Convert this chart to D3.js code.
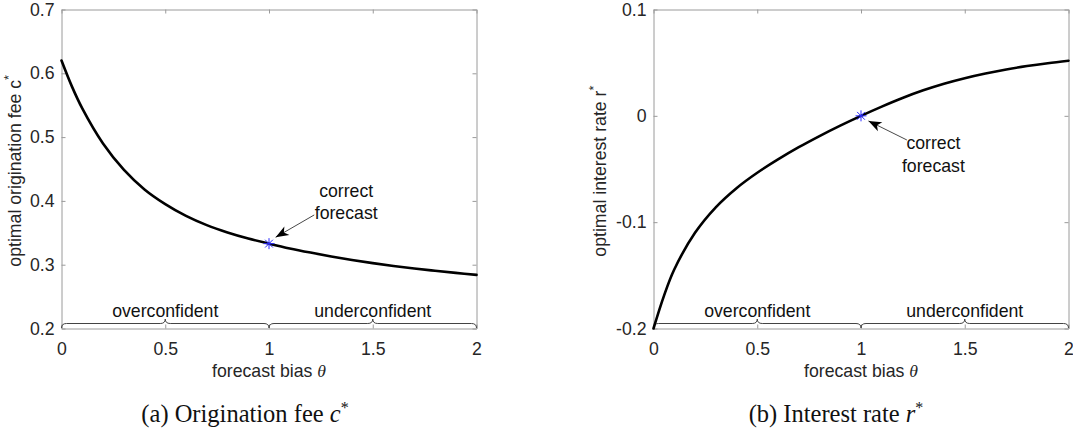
<!DOCTYPE html>
<html><head><meta charset="utf-8">
<script src="https://cdn.jsdelivr.net/npm/d3@7"></script>
<style>body{margin:0;background:#fff} svg{display:block}</style>
</head><body>
<svg id="c" width="1073" height="432"></svg>
<script>
// ---- data ----
const theta = [0, 0.05, 0.1, 0.2, 0.3, 0.4, 0.5, 0.6, 0.7, 0.8, 0.9, 1.0, 1.1, 1.2, 1.3, 1.4, 1.5, 1.6, 1.7, 1.8, 1.9, 2.0];
const fee   = [0.620, 0.5795, 0.545, 0.490, 0.449, 0.418, 0.395, 0.3765, 0.362, 0.3505, 0.341, 0.333, 0.3255, 0.319, 0.313, 0.3075, 0.3025, 0.298, 0.294, 0.2905, 0.2872, 0.284];
const rate  = [-0.200, -0.1695, -0.1445, -0.110, -0.086, -0.068, -0.0535, -0.041, -0.0295, -0.019, -0.0092, 0, 0.0087, 0.0168, 0.024, 0.0302, 0.0354, 0.0398, 0.0436, 0.0468, 0.0495, 0.0518];
const xTicks = [0, 0.5, 1, 1.5, 2];
const feeTicks = [0.2, 0.3, 0.4, 0.5, 0.6, 0.7];
const rateTicks = [-0.2, -0.1, 0, 0.1];
const regionLabels = ["overconfident", "underconfident"];
const regionFrom = [0, 1];
const regionTo = [1, 2];
const correctTheta = 1;
const correctFee = 0.333;
const correctRate = 0;
const annoLines = ["correct", "forecast"];
const xLabel = "forecast bias ";
const feeLabel = "optimal origination fee c";
const rateLabel = "optimal interest rate r";
const captions = ["(a) Origination fee ", "(b) Interest rate "];
const captionVars = ["c", "r"];

// annotation anchors in data units
const feeArrow = {tail:[1.218, 0.378], tip:[1.032, 0.343], text:[1.372, 0.406, 0.3715]};
const rateArrow = {tail:[1.221, -0.0227], tip:[1.036, -0.0048], text:[1.349, -0.0314, -0.0525]};

const svg = d3.select("#c");
const FONT = "'Liberation Sans', Arial, sans-serif";
const FS = "17.7px";
const AX = "#9a9a9a", TXT = "#262626";

svg.append("defs").append("marker")
  .attr("id","ah").attr("markerUnits","userSpaceOnUse")
  .attr("markerWidth",18).attr("markerHeight",14)
  .attr("viewBox","-15 -7 16 14").attr("refX",0).attr("refY",0)
  .attr("orient","auto")
  .append("path").attr("d","M0,0 L-13,-5 L-9.5,0 L-13,5 Z").attr("fill","#000");

function panel(cfg){
  const x = d3.scaleLinear().domain([0,2]).range([cfg.x0, cfg.x1]);
  const y = d3.scaleLinear().domain(cfg.yDom).range([328.5, 9.5]);
  const g = svg.append("g");

  const styleAxis = sel => {
    sel.select(".domain").attr("stroke", AX);
    sel.selectAll(".tick line").attr("stroke", AX);
    sel.selectAll("text").attr("fill", TXT).style("font-family", FONT).style("font-size", FS);
  };
  g.append("g").attr("transform",`translate(0,${y.range()[0]})`)
    .call(d3.axisBottom(x).tickValues(xTicks).tickFormat(d=>String(d)).tickSizeInner(-4).tickSizeOuter(0).tickPadding(13.5))
    .call(styleAxis);
  g.append("g").attr("transform",`translate(0,${y.range()[1]})`)
    .call(d3.axisTop(x).tickValues(xTicks).tickFormat("").tickSizeInner(-4).tickSizeOuter(0))
    .call(styleAxis);
  g.append("g").attr("transform",`translate(${cfg.x0},0)`)
    .call(d3.axisLeft(y).tickValues(cfg.yTicks).tickFormat(d=>String(d)).tickSizeInner(-4).tickSizeOuter(0).tickPadding(7))
    .call(styleAxis);
  g.append("g").attr("transform",`translate(${cfg.x1},0)`)
    .call(d3.axisRight(y).tickValues(cfg.yTicks).tickFormat("").tickSizeInner(-4).tickSizeOuter(0))
    .call(styleAxis);
  g.selectAll(".domain").attr("fill","none");

  // braces
  const yb = y.range()[0] - 0.5;
  regionLabels.forEach((lab,i)=>{
    const a = x(regionFrom[i]), b = x(regionTo[i]), m = (a+b)/2;
    const yl = yb - 4.5, yt = yb - 9;
    const p = `M${a},${yb} Q${a},${yl} ${a+5},${yl} L${m-5},${yl} Q${m},${yl} ${m},${yt} Q${m},${yl} ${m+5},${yl} L${b-5},${yl} Q${b},${yl} ${b},${yb}`;
    g.append("path").attr("d",p).attr("fill","none").attr("stroke","#444").attr("stroke-width",1);
    g.append("text").attr("x",m).attr("y",yb-11.5).attr("text-anchor","middle")
      .style("font-family",FONT).style("font-size",FS).attr("fill","#111").text(lab);
  });

  // curve
  const line = d3.line().x((d,i)=>x(theta[i])).y(d=>y(d)).curve(d3.curveCatmullRom.alpha(0.5));
  g.append("path").datum(cfg.vals).attr("d",line).attr("fill","none")
    .attr("stroke","#000").attr("stroke-width",2.6).attr("stroke-linecap","round");

  // star marker
  const cx = x(correctTheta), cy = y(cfg.star);
  g.append("path").attr("d",
    `M${cx-5.5},${cy}H${cx+5.5}M${cx},${cy-5.5}V${cy+5.5}M${cx-3.9},${cy-3.9}L${cx+3.9},${cy+3.9}M${cx-3.9},${cy+3.9}L${cx+3.9},${cy-3.9}`)
    .attr("stroke","#2a2aff").attr("stroke-width",1).attr("fill","none");

  // annotation arrow + text
  const A = cfg.arrow;
  g.append("line").attr("x1",x(A.tail[0])).attr("y1",y(A.tail[1]))
    .attr("x2",x(A.tip[0])).attr("y2",y(A.tip[1]))
    .attr("stroke","#333").attr("stroke-width",0.9).attr("marker-end","url(#ah)");
  annoLines.forEach((t,i)=>{
    g.append("text").attr("x",x(A.text[0])).attr("y",y(A.text[1+i])).attr("text-anchor","middle")
      .style("font-family",FONT).style("font-size",FS).attr("fill","#111").text(t);
  });

  // x label
  const xl = g.append("text").attr("x",(cfg.x0+cfg.x1)/2).attr("y",377.3).attr("text-anchor","middle")
    .style("font-family",FONT).style("font-size",FS).attr("fill",TXT);
  xl.append("tspan").text(xLabel);
  xl.append("tspan").style("font-family","'Liberation Serif', serif").style("font-style","italic").text("θ");

  // y label
  const yl = g.append("text").attr("transform",`translate(${cfg.ylx},${cfg.yly}) rotate(-90)`)
    .attr("text-anchor","start").style("font-family",FONT).style("font-size",FS).attr("fill",TXT);
  yl.append("tspan").text(cfg.ylab);
  yl.append("tspan").attr("dy",-8).style("font-size","12.5px").text("*");

  // caption
  const cap = g.append("text").attr("x",cfg.capx).attr("y",421.7).attr("text-anchor","middle")
    .style("font-family","'Liberation Serif', 'Times New Roman', serif").style("font-size","24.5px").attr("fill","#111");
  cap.append("tspan").text(cfg.cap);
  cap.append("tspan").style("font-style","italic").text(cfg.capVar);
  cap.append("tspan").attr("dy",-9).style("font-size","16px").text("*");
}

panel({x0:61.5, x1:476.5, yDom:[0.2,0.7], yTicks:feeTicks, vals:fee, star:correctFee, arrow:feeArrow,
       ylab:feeLabel, ylx:21, yly:266.7, cap:captions[0], capVar:captionVars[0], capx:245});
panel({x0:653.5, x1:1068.5, yDom:[-0.2,0.1], yTicks:rateTicks, vals:rate, star:correctRate, arrow:rateArrow,
       ylab:rateLabel, ylx:605.7, yly:256.7, cap:captions[1], capVar:captionVars[1], capx:836});
</script>
</body></html>
